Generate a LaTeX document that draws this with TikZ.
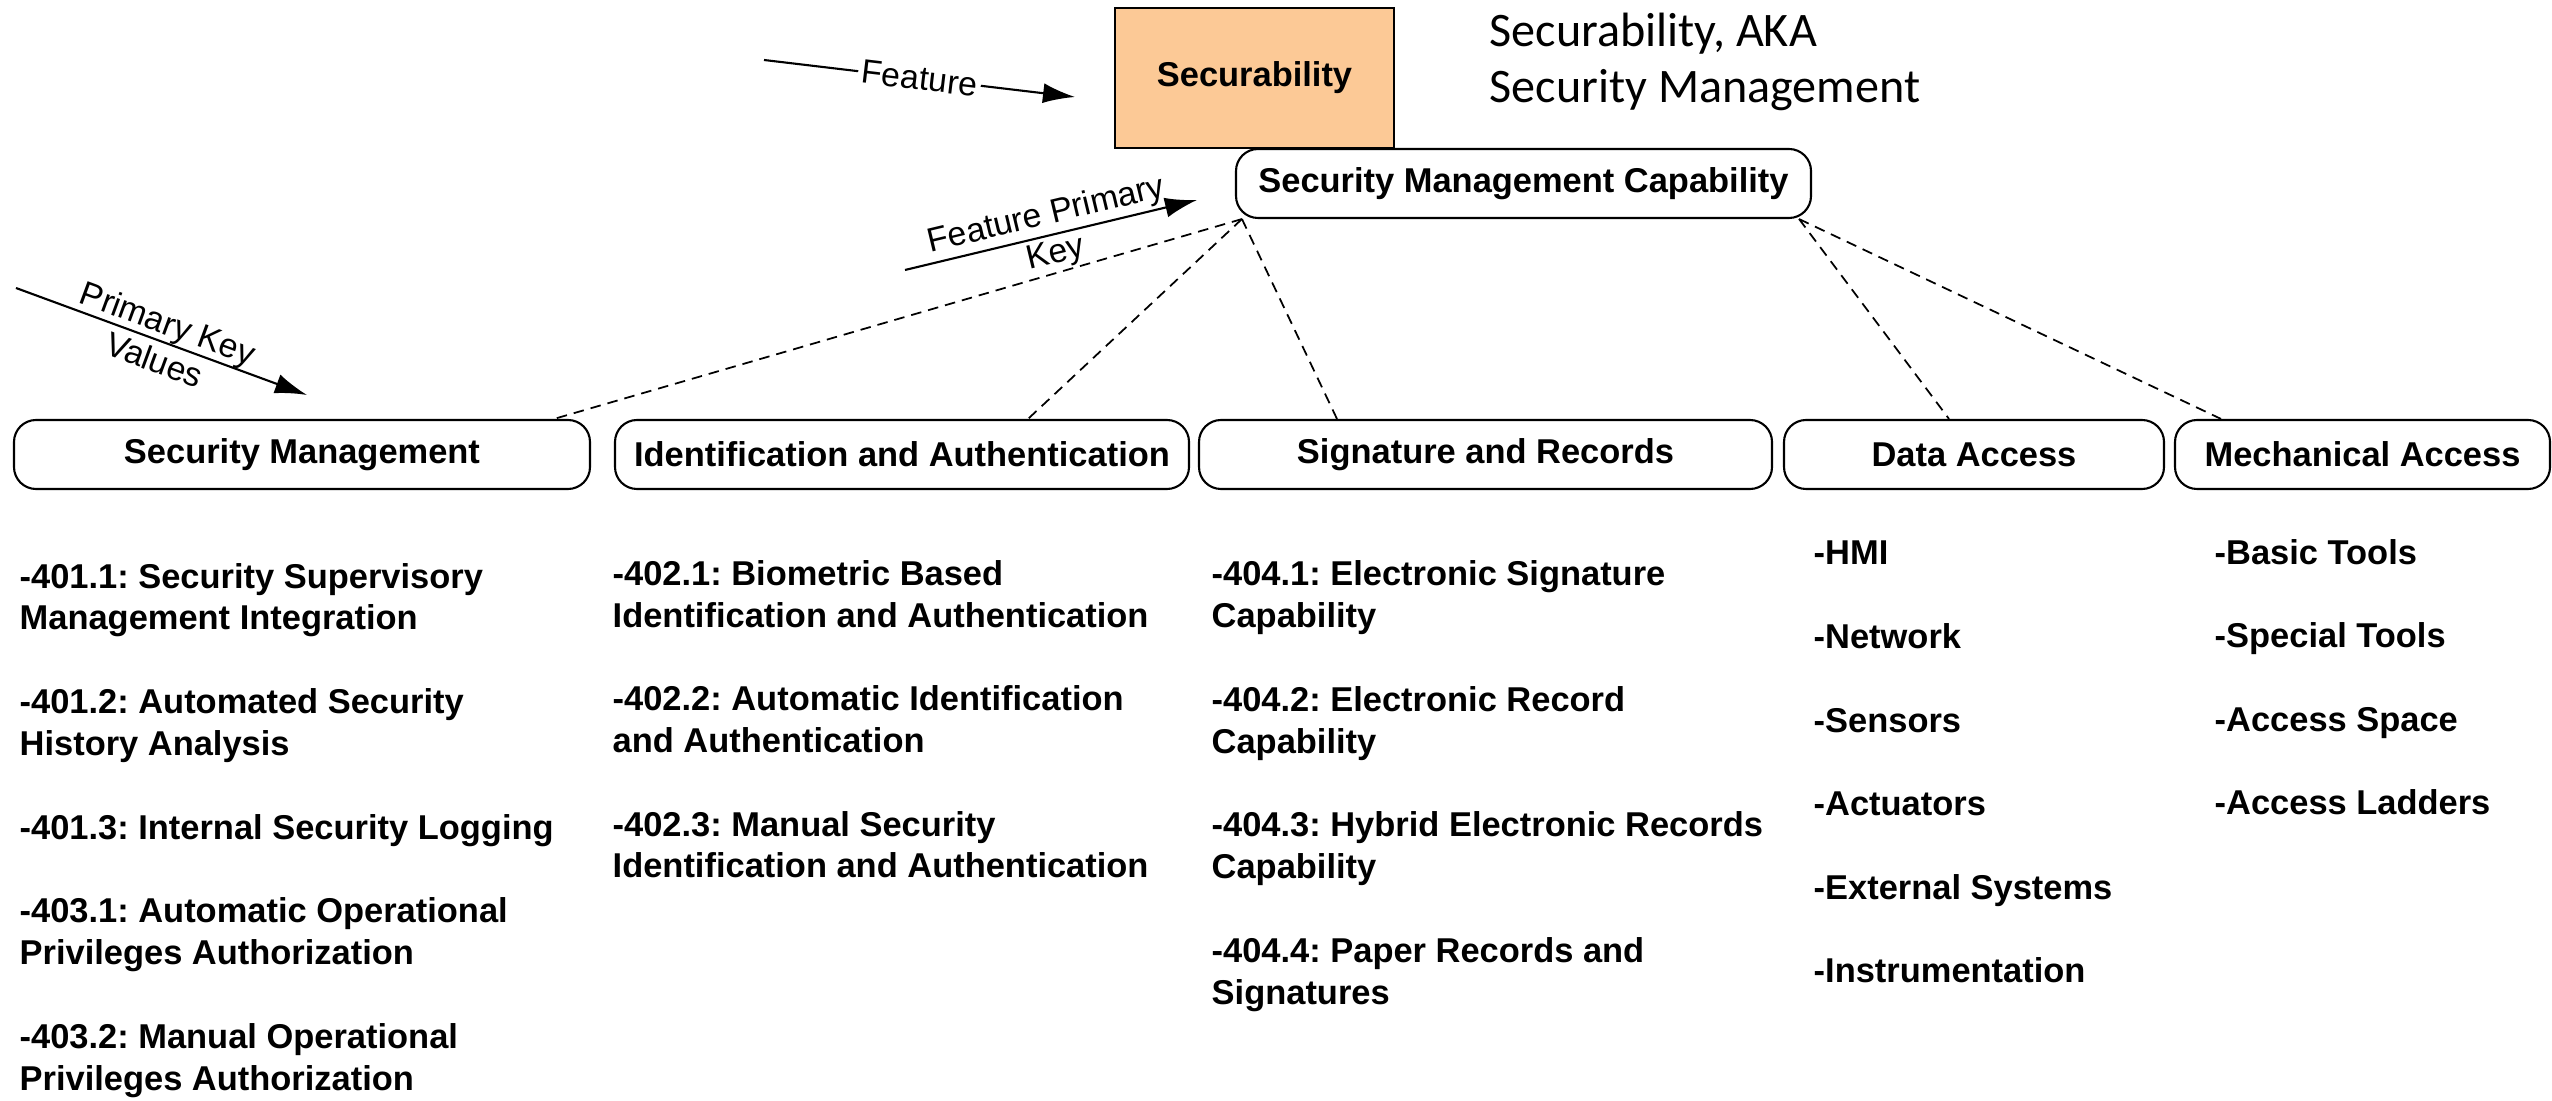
\documentclass[tikz,border=0pt]{standalone}
\usepackage{fontspec}
\setmainfont{Liberation Sans}
\newfontfamily\calibri{Carlito}
\usepackage{tikz}
\usetikzlibrary{arrows.meta}
\usepackage{xcolor}
\definecolor{featfill}{RGB}{252,201,150}
\frenchspacing

\begin{document}
\begin{tikzpicture}[
  catbox/.style={draw, line width=0.6pt, rounded corners=0.22cm, minimum height=0.69cm, inner sep=0pt, font=\fontsize{9.8}{11.9}\selectfont\bfseries},
  itemlist/.style={anchor=base west, align=left, inner sep=0pt, font=\fontsize{9.8}{11.9}\selectfont\bfseries},
  link/.style={line width=0.5pt, dash pattern=on 3pt off 2pt},
  keyarrow/.style={line width=0.6pt, -{Latex[length=0.32cm,width=0.2cm]}},
  keylabel/.style={sloped, align=center, inner sep=1pt, font=\fontsize{9.6}{11.2}\selectfont}
]
\useasboundingbox (0,0) rectangle (25.52,-11.01);

\node [draw, line width=0.6pt, fill=featfill, minimum width=2.79cm, minimum height=1.40cm, font=\fontsize{9.8}{11.9}\selectfont\bfseries] (secur) at (12.545,-0.78) {Securability};
\node [anchor=base west, align=left, inner sep=0pt, font=\calibri\fontsize{13.7}{16}\selectfont] (aka) at (14.89,-1.03) {Securability, AKA\\Security Management};

\node [catbox, minimum width=5.75cm] (smc) at (15.235,-1.835) {Security Management Capability};

\node [catbox, minimum width=5.76cm] (sm) at (3.02,-4.545) {Security Management};
\node [catbox, minimum width=5.74cm] (ia) at (9.02,-4.545) {Identification and Authentication};
\node [catbox, minimum width=5.73cm] (sr) at (14.855,-4.545) {Signature and Records};
\node [catbox, minimum width=3.80cm] (da) at (19.74,-4.545) {Data Access};
\node [catbox, minimum width=3.75cm] (ma) at (23.625,-4.545) {Mechanical Access};

\draw [link] ([xshift=0.07cm]smc.south west) -- ([xshift=2.52cm]sm.north);
\draw [link] ([xshift=0.07cm]smc.south west) -- ([xshift=1.26cm]ia.north);
\draw [link] ([xshift=0.07cm]smc.south west) -- ([xshift=-1.485cm]sr.north);
\draw [link] ([xshift=-0.13cm]smc.south east) -- ([xshift=-0.25cm]da.north);
\draw [link] ([xshift=-0.13cm]smc.south east) -- ([xshift=-1.415cm]ma.north);

\coordinate (featA) at (7.64,-0.60);
\coordinate (featB) at (10.75,-0.97);
\draw [keyarrow] (featA) -- node[keylabel, fill=white] (featlbl) {Feature} (featB);
\coordinate (fpkA) at (9.05,-2.70);
\coordinate (fpkB) at (11.97,-2.00);
\draw [keyarrow] (fpkA) -- node[keylabel] (fpklbl) {Feature Primary\\Key} (fpkB);
\coordinate (pkvA) at (0.16,-2.88);
\coordinate (pkvB) at (3.07,-3.95);
\draw [keyarrow] (pkvA) -- node[keylabel] (pkvlbl) {Primary Key\\Values} (pkvB);

% anchors are the baselines of the last lines
\node [itemlist] (col1) at (0.19,-10.90) {-401.1: Security Supervisory\\Management Integration\\[11.9pt]-401.2: Automated Security\\History Analysis\\[11.9pt]-401.3: Internal Security Logging\\[11.9pt]-403.1: Automatic Operational\\Privileges Authorization\\[11.9pt]-403.2: Manual Operational\\Privileges Authorization};
\node [itemlist] (col2) at (6.12,-8.78) {-402.1: Biometric Based\\Identification and Authentication\\[11.9pt]-402.2: Automatic Identification\\and Authentication\\[11.9pt]-402.3: Manual Security\\Identification and Authentication};
\node [itemlist] (col3) at (12.11,-10.04) {-404.1: Electronic Signature\\Capability\\[11.9pt]-404.2: Electronic Record\\Capability\\[11.9pt]-404.3: Hybrid Electronic Records\\Capability\\[11.9pt]-404.4: Paper Records and\\Signatures};
\node [itemlist] (col4) at (18.13,-9.83) {-HMI\\[11.9pt]-Network\\[11.9pt]-Sensors\\[11.9pt]-Actuators\\[11.9pt]-External Systems\\[11.9pt]-Instrumentation};
\node [itemlist] (col5) at (22.14,-8.15) {-Basic Tools\\[11.9pt]-Special Tools\\[11.9pt]-Access Space\\[11.9pt]-Access Ladders};
\end{tikzpicture}
\end{document}
